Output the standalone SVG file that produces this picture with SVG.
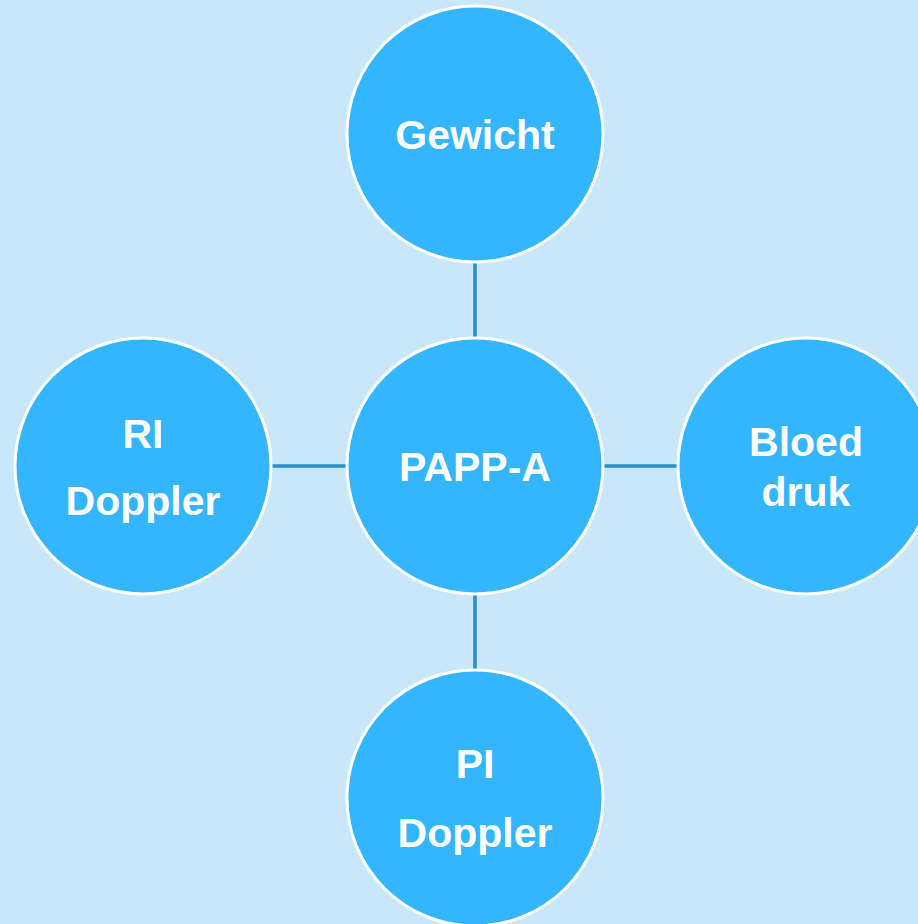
<svg xmlns="http://www.w3.org/2000/svg" width="918" height="924" viewBox="0 0 918 924">
<style>
.n{fill:#33b6fe;stroke:#ffffff;stroke-width:3}
.t{fill:#ffffff;font-family:"Liberation Sans",Arial,sans-serif;font-weight:bold;font-size:41px;text-anchor:middle}
.c{stroke:#2a8fc9;stroke-width:3.5;fill:none}
</style>
<rect width="918" height="924" fill="#c8e7fa"/>
<g id="connectors">
<line class="c" x1="475" y1="262" x2="475" y2="338"/>
<line class="c" x1="475" y1="594" x2="475" y2="670"/>
<line class="c" x1="271" y1="466" x2="347" y2="466"/>
<line class="c" x1="603" y1="466" x2="678" y2="466"/>
</g>
<g id="gewicht"><circle class="n" cx="475" cy="134" r="128"/><text class="t" x="475" y="149">Gewicht</text></g>
<g id="pappa"><circle class="n" cx="475" cy="466" r="128"/><text class="t" x="475" y="481">PAPP-A</text></g>
<g id="ri"><circle class="n" cx="143" cy="466" r="128"/><text class="t" x="143" y="448">RI</text><text class="t" x="143" y="515">Doppler</text></g>
<g id="bloeddruk"><circle class="n" cx="806" cy="466" r="128"/><text class="t" x="806" y="456">Bloed</text><text class="t" x="806" y="506">druk</text></g>
<g id="pi"><circle class="n" cx="475" cy="798" r="128"/><text class="t" x="475" y="778">PI</text><text class="t" x="475" y="847">Doppler</text></g>
</svg>
